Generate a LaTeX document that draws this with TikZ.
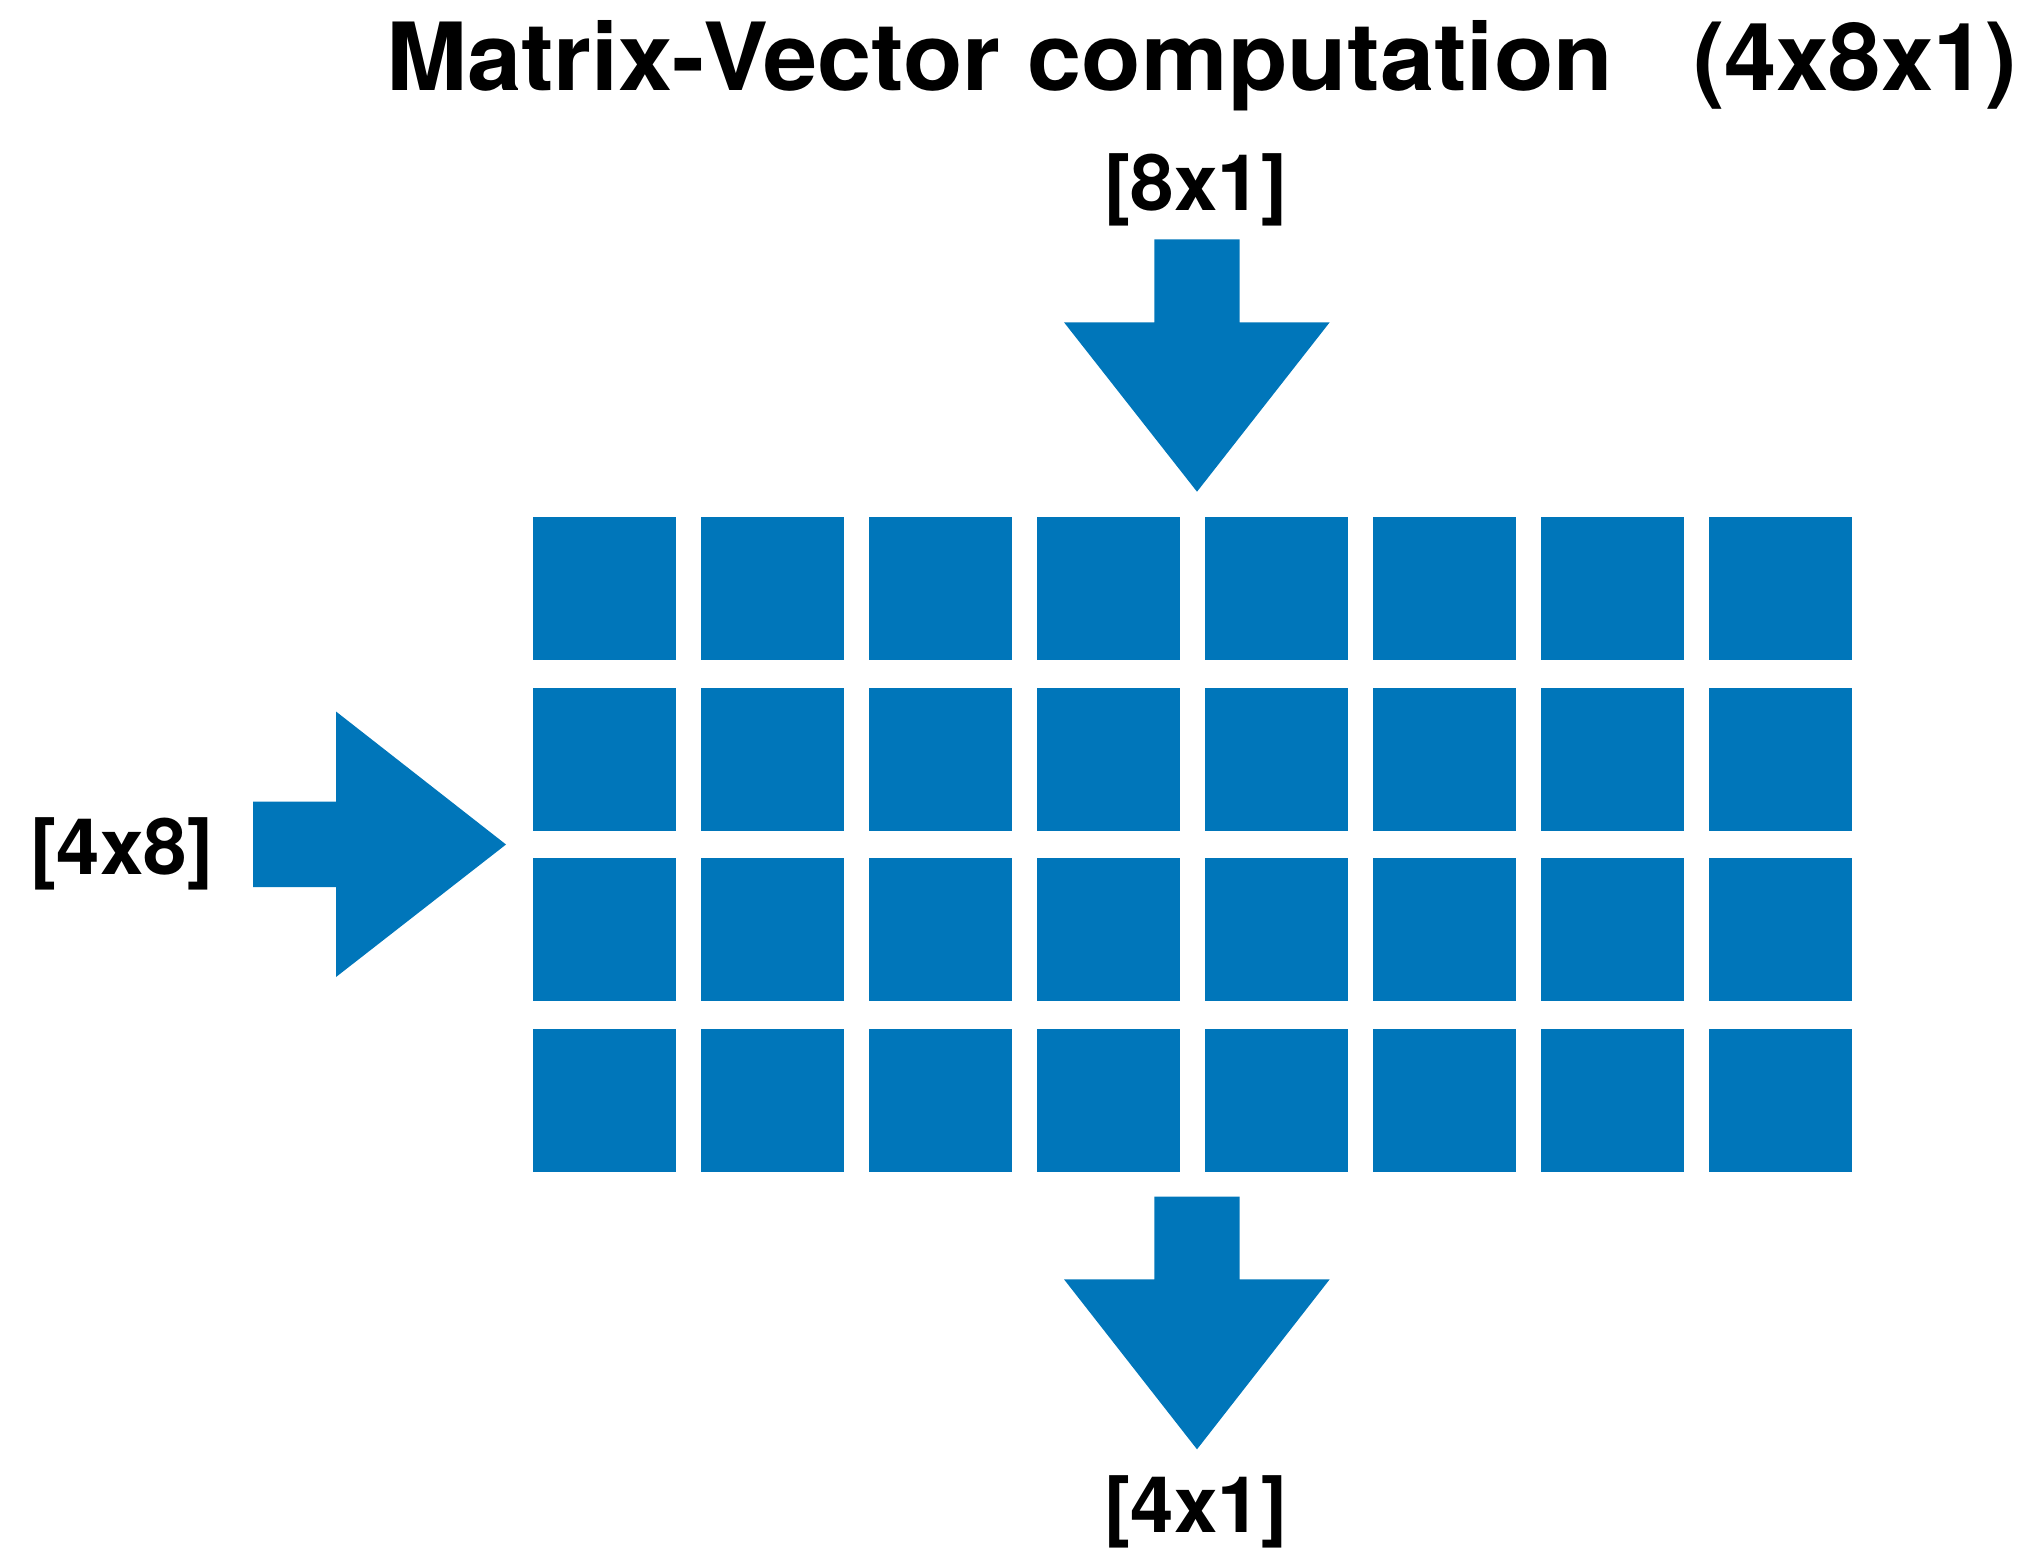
\documentclass[tikz,border=0pt]{standalone}
\usepackage{fontspec}
\setmainfont{TeX Gyre Heros}
\newfontfamily\titlefont[FakeStretch=1.036]{TeX Gyre Heros}
\definecolor{cellblue}{RGB}{0,118,186}
\begin{document}
\begin{tikzpicture}[x=1pt,y=-1pt,
  cell/.style={fill=cellblue, minimum width=142.5pt, minimum height=143pt,
    inner sep=0pt, outer sep=0pt},
  blockarrow/.style={fill=cellblue},
  dimlabel/.style={font=\fontsize{78}{84}\selectfont\bfseries, inner sep=0pt},
  titletext/.style={font=\fontsize{94}{100}\selectfont\bfseries,
    inner sep=0pt, anchor=base west}]
\useasboundingbox (0,0) rectangle (2027,1553);

% title
\node[titletext] (title) at (386,90.5)
  {{\titlefont Matrix-Vector computation}\hspace*{80pt}(4x8x1)};

% 4 x 8 matrix of cells
\foreach \r in {0,...,3}
  \foreach \c in {0,...,7}
    \node[cell] (cell-\r-\c) at ({604.25+168*\c},{588.5+170.7*\r}) {};

% input vector arrow (top)
\coordinate (intip) at (1197,491.7);
\fill[blockarrow] (1154.3,239.3) -- (1239.7,239.3) -- (1239.7,322.3)
  -- (1329.7,322.3) -- (intip) -- (1064,322.3) -- (1154.3,322.3) -- cycle;
\node[dimlabel] (vecin) at (1196,190) {[8x1]};

% matrix arrow (left)
\coordinate (mattip) at (506,844.5);
\fill[blockarrow] (253,801.7) -- (336,801.7) -- (336,711.5) -- (mattip)
  -- (336,977) -- (336,887) -- (253,887) -- cycle;
\node[dimlabel] (matin) at (122,853.5) {[4x8]};

% output vector arrow (bottom)
\coordinate (outtip) at (1197,1449.3);
\fill[blockarrow] (1154.3,1196.7) -- (1239.7,1196.7) -- (1239.7,1279.3)
  -- (1329.7,1279.3) -- (outtip) -- (1064,1279.3) -- (1154.3,1279.3) -- cycle;
\node[dimlabel] (vecout) at (1196,1511.5) {[4x1]};
\end{tikzpicture}
\end{document}
